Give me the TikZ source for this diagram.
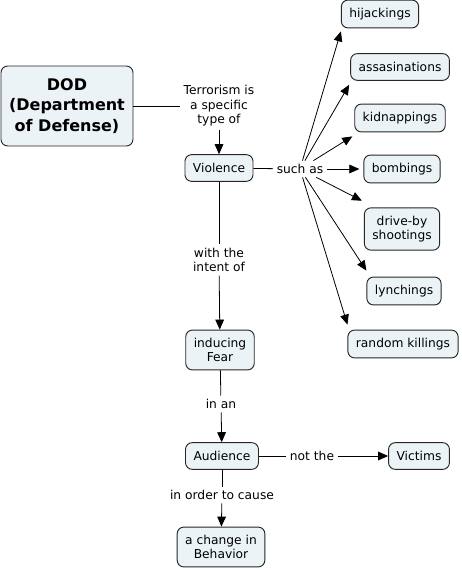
\documentclass[tikz,border=0pt]{standalone}
\usepackage{fontspec}
\setmainfont{DejaVu Sans}
\usetikzlibrary{arrows.meta}
\definecolor{boxfill}{RGB}{236,243,246}
\begin{document}
\begin{tikzpicture}[x=0.75pt,y=-0.75pt,
  concept/.style={draw=black!85, fill=boxfill, rounded corners=5pt, align=center,
    font=\fontsize{9.2}{10.8}\selectfont, inner xsep=6pt, inner ysep=6pt,
    minimum height=20pt, line width=0.7pt},
  link/.style={align=center, font=\fontsize{9.2}{10.8}\selectfont, inner sep=2.5pt},
  conn/.style={line width=0.6pt},
  arr/.style={conn, -{Triangle[length=7.5pt,width=6.5pt]}}]
\useasboundingbox[fill=white] (0,0) rectangle (461,570);
% concepts
\node[concept, font=\bfseries\fontsize{12}{15.5}\selectfont, minimum width=99pt, minimum height=60pt] (dod) at (67,106) {DOD\\(Department\\of Defense)};
\node[concept] (viol) at (219,168) {Violence};
\node[concept] (hij) at (380,14) {hijackings};
\node[concept] (ass) at (400,67) {assasinations};
\node[concept] (kid) at (400,118) {kidnappings};
\node[concept] (bomb) at (402,169) {bombings};
\node[concept] (drive) at (402,229) {drive-by\\shootings};
\node[concept] (lynch) at (404,291) {lynchings};
\node[concept] (rand) at (403,344) {random killings};
\node[concept] (fear) at (220,350) {inducing\\Fear};
\node[concept] (aud) at (222,456) {Audience};
\node[concept] (vict) at (419,456) {Victims};
\node[concept] (chg) at (221,547) {a change in\\Behavior};
% linking phrases
\node[link] (terr) at (219,106) {Terrorism is\\a specific\\type of};
\node[link] (such) at (300,169) {such as};
\node[link] (intent) at (219,260) {with the\\intent of};
\node[link] (inan) at (221,404) {in an};
\node[link] (notthe) at (312,456) {not the};
\node[link] (order) at (222,495) {in order to cause};
% target points
\coordinate[xshift=0pt,yshift=-2.25pt] (thij) at (hij.south west);
\coordinate[xshift=-0.75pt,yshift=-3pt] (tass) at (ass.south west);
\coordinate[xshift=-1.5pt,yshift=-3pt] (tkid) at (kid.south west);
\coordinate[xshift=-1.5pt,yshift=5pt] (tdrive) at (drive.north west);
\coordinate[xshift=0pt,yshift=4.5pt] (tlynch) at (lynch.north west);
\coordinate[xshift=0pt,yshift=3.75pt] (trand) at (rand.north west);
% connectors
\draw[conn] (dod) -- (terr);
\draw[arr] (terr) -- (viol);
\draw[conn] (viol) -- (such);
\draw[arr] (such) -- (thij);
\draw[arr] (such) -- (tass);
\draw[arr] (such) -- (tkid);
\draw[arr, shorten >=3pt] (such) -- (bomb);
\draw[arr] (such) -- (tdrive);
\draw[arr] (such) -- (tlynch);
\draw[arr] (such) -- (trand);
\draw[conn] (viol) -- (intent);
\draw[arr] (intent) -- (fear);
\draw[conn] (fear) -- (inan);
\draw[arr] (inan) -- (aud);
\draw[conn] (aud) -- (notthe);
\draw[arr] (notthe) -- (vict);
\draw[conn] (aud) -- (order);
\draw[arr] (order) -- (chg);
\end{tikzpicture}
\end{document}
